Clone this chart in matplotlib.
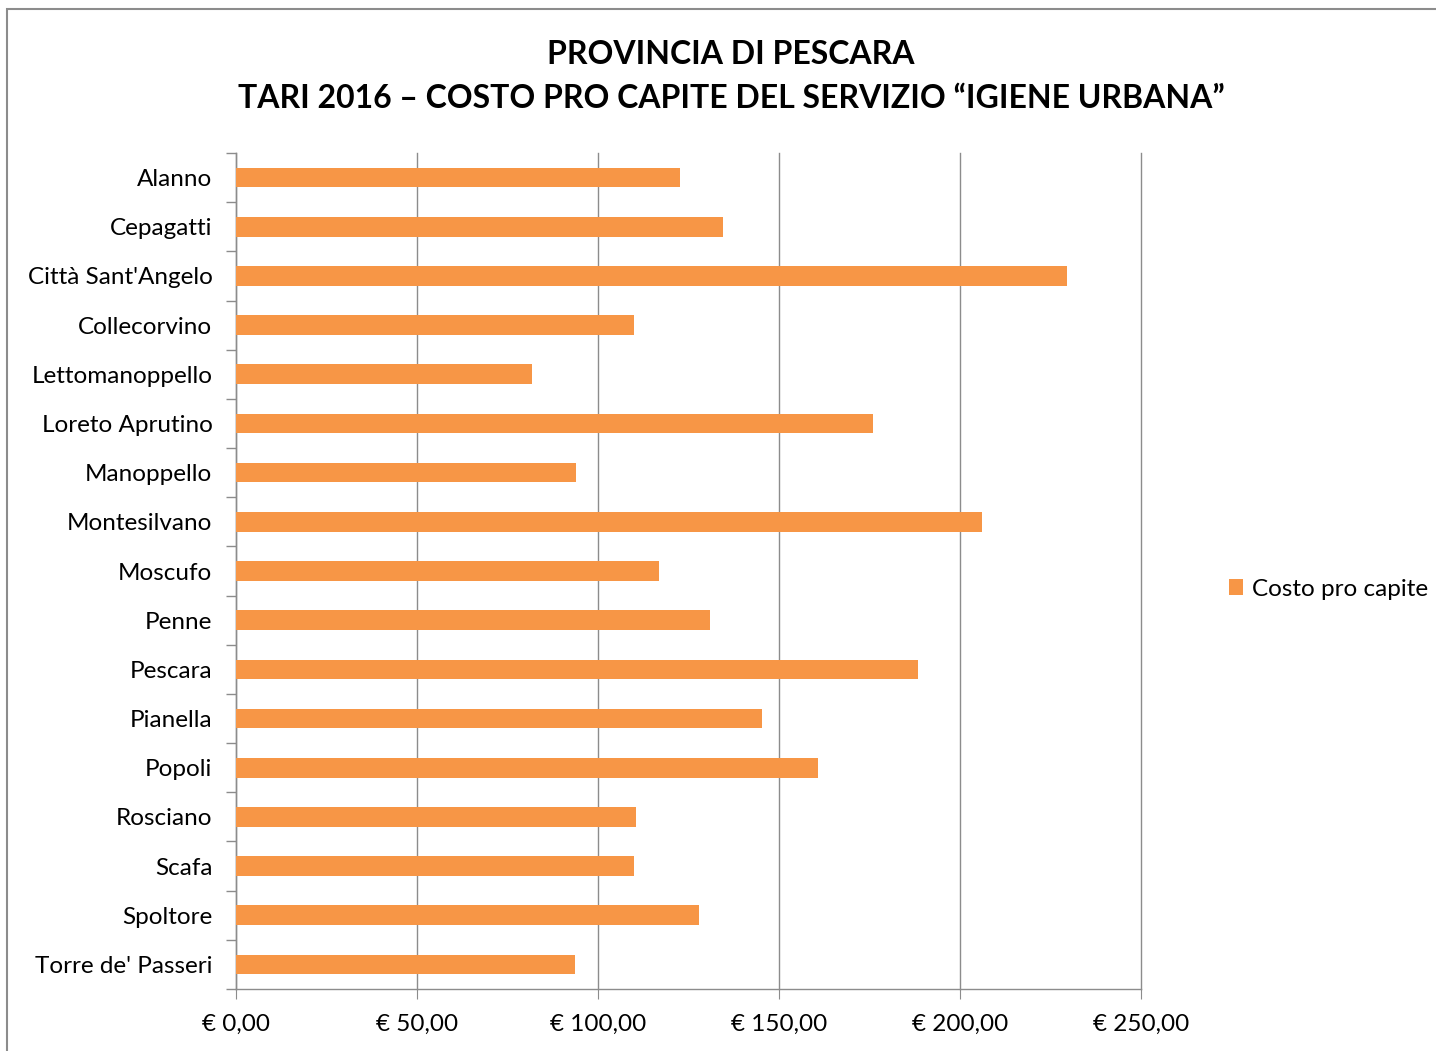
from matplotlib import pyplot as plt
from matplotlib.patches import Rectangle
from matplotlib.ticker import FuncFormatter, FixedLocator

plt.rcParams['font.family'] = ['Lato', 'DejaVu Sans']

comuni = ["Alanno", "Cepagatti", "Città Sant'Angelo", "Collecorvino",
          "Lettomanoppello", "Loreto Aprutino", "Manoppello", "Montesilvano",
          "Moscufo", "Penne", "Pescara", "Pianella", "Popoli", "Rosciano",
          "Scafa", "Spoltore", "Torre de' Passeri"]
costo = [122.7, 134.6, 229.6, 109.9, 81.8, 176.0, 93.9, 206.1, 116.9,
         130.9, 188.4, 145.3, 160.8, 110.5, 109.9, 127.9, 93.6]
x_ticks = [0, 50, 100, 150, 200, 250]

arancio = "#f79646"
grigio = "#8c8c8c"
fs = 17.5

fig = plt.figure(figsize=(14.36, 10.51), dpi=100)
ax = fig.add_axes([236 / 1436, 1 - 989 / 1051, 905 / 1436, 836 / 1051])

pos = list(range(len(comuni)))
ax.barh(pos, costo, height=0.4, color=arancio, label="Costo pro capite", zorder=3)
ax.set_ylim(len(comuni) - 0.5, -0.5)
ax.set_xlim(0, 250)

ax.set_yticks(pos)
ax.set_yticklabels(comuni, fontsize=fs)
ax.yaxis.set_minor_locator(FixedLocator([p - 0.5 for p in range(len(comuni) + 1)]))
ax.tick_params(axis='y', which='major', length=0, pad=17)
ax.tick_params(axis='y', which='minor', length=7, color=grigio, width=1)

ax.set_xticks(x_ticks)
ax.xaxis.set_major_formatter(FuncFormatter(lambda v, p: "€ %d,00" % v))
ax.tick_params(axis='x', length=7, color=grigio, labelsize=fs, pad=11)

ax.grid(axis='x', color=grigio, linewidth=1, zorder=0)
for gl in ax.get_xgridlines():
    gl.set_clip_on(False)
for s in ['top', 'right']:
    ax.spines[s].set_visible(False)
for s in ['left', 'bottom']:
    ax.spines[s].set_color(grigio)
    ax.spines[s].set_linewidth(1)

fig.text(731 / 1436, 1 - 54 / 1051, "PROVINCIA DI PESCARA", ha='center', va='center',
         fontsize=23, fontweight='bold')
fig.text(731 / 1436, 1 - 99 / 1051, "TARI 2016 – COSTO PRO CAPITE DEL SERVIZIO “IGIENE URBANA”",
         ha='center', va='center', fontsize=23, fontweight='bold')

fig.legend(loc='center left', bbox_to_anchor=(1207 / 1436, 1 - 589 / 1051), frameon=False,
           fontsize=fs, handlelength=0.6, handleheight=0.6, handletextpad=0.35)

fig.add_artist(Rectangle((7 / 1436, -0.01), 1.1, 1 - 9 / 1051 + 0.01, transform=fig.transFigure,
                         fill=False, edgecolor=grigio, linewidth=1.5))

fig.savefig("out.png", dpi=100)
